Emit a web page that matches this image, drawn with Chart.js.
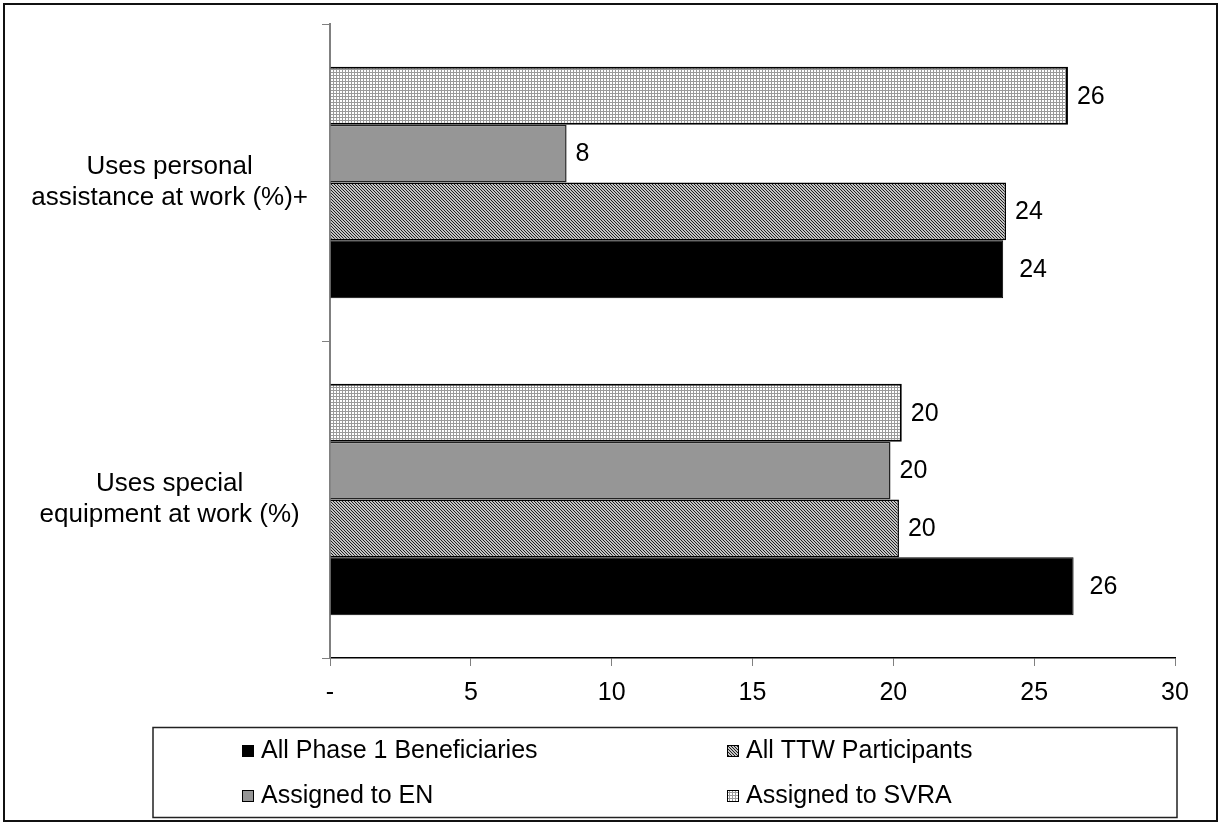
<!DOCTYPE html>
<html>
<head>
<meta charset="utf-8">
<script src="https://cdn.jsdelivr.net/npm/chart.js@4"></script>
<style>
  html, body { margin: 0; padding: 0; background: #fff; }
  #wrap { width: 1220px; height: 825px; position: relative; }
</style>
</head>
<body>
<div id="wrap"><canvas id="chart" width="1220" height="825"></canvas></div>
<script>
// Data
const categories = [
    ['Uses personal', 'assistance at work (%)+'],
    ['Uses special', 'equipment at work (%)']
];
const svraValues = [26.2, 20.3];
const enValues = [8.4, 19.9];
const ttwValues = [24.0, 20.2];
const phase1Values = [23.9, 26.4];
const xTickLabels = ['-', '5', '10', '15', '20', '25', '30'];

const FONT = "'Liberation Sans', Arial, sans-serif";

// Fill patterns
function makePattern(size, drawFn) {
    const c = document.createElement('canvas');
    c.width = size;
    c.height = size;
    const g = c.getContext('2d');
    drawFn(g);
    return g.createPattern(c, 'repeat');
}

const ctx = document.getElementById('chart').getContext('2d');

const gridPattern = makePattern(3, g => {
    g.fillStyle = '#ffffff';
    g.fillRect(0, 0, 3, 3);
    g.fillStyle = '#9a9a9a';
    g.fillRect(0, 0, 3, 1);
    g.fillRect(0, 0, 1, 3);
});

const hatchPattern = makePattern(3, g => {
    g.fillStyle = '#c4c4c4';
    g.fillRect(0, 0, 3, 3);
    g.fillStyle = '#202020';
    for (let y = 0; y < 3; y++) {
        for (let x = 0; x < 3; x++) {
            if (((x - y) % 3 + 3) % 3 === 0) g.fillRect(x, y, 1, 1);
        }
    }
});

// Value labels at bar ends
const valueLabels = {
    id: 'valueLabels',
    afterDatasetsDraw(chart) {
        const c = chart.ctx;
        c.save();
        c.font = '25px ' + FONT;
        c.fillStyle = '#000';
        c.textBaseline = 'middle';
        c.textAlign = 'left';
        chart.data.datasets.forEach((ds, i) => {
            const meta = chart.getDatasetMeta(i);
            meta.data.forEach((bar, j) => {
                const off = ds.labelOffset || 9;
                c.fillText(String(Math.round(ds.data[j])), bar.x + off, bar.y + 1);
            });
        });
        c.restore();
    }
};

// Boxed two-column legend + outer frame
const boxLegend = {
    id: 'boxLegend',
    afterDraw(chart) {
        const c = chart.ctx;
        const ds = chart.data.datasets;
        const order = [3, 2, 1, 0]; // Phase 1, TTW, EN, SVRA
        c.save();
        c.strokeStyle = '#222';
        c.lineWidth = 1.5;
        c.strokeRect(153, 727.5, 1024, 90);
        c.font = '25px ' + FONT;
        c.textBaseline = 'middle';
        c.textAlign = 'left';
        order.forEach((di, k) => {
            const col = k % 2;
            const row = Math.floor(k / 2);
            const sx = col === 0 ? 242 : 727;
            const cy = row === 0 ? 751 : 796;
            c.fillStyle = ds[di].backgroundColor;
            c.fillRect(sx, cy - 6, 12, 12);
            c.strokeStyle = '#000';
            c.lineWidth = 1;
            c.strokeRect(sx + 0.5, cy - 5.5, 11, 11);
            c.fillStyle = '#000';
            c.fillText(ds[di].label, sx + 19, cy);
        });
        c.strokeStyle = '#111';
        c.lineWidth = 2;
        c.strokeRect(4, 4, 1213, 817);
        c.restore();
    }
};

new Chart(ctx, {
    type: 'bar',
    data: {
        labels: categories,
        datasets: [
            {
                label: 'Assigned to SVRA',
                data: svraValues,
                backgroundColor: gridPattern,
                borderColor: '#000',
                borderWidth: 2
            },
            {
                label: 'Assigned to EN',
                data: enValues,
                backgroundColor: '#969696',
                borderColor: '#222',
                borderWidth: 1.5
            },
            {
                label: 'All TTW Participants',
                data: ttwValues,
                backgroundColor: hatchPattern,
                borderColor: '#000',
                borderWidth: 1.5
            },
            {
                label: 'All Phase 1 Beneficiaries',
                data: phase1Values,
                backgroundColor: '#000000',
                borderColor: '#000',
                borderWidth: 1,
                labelOffset: 16
            }
        ]
    },
    options: {
        indexAxis: 'y',
        responsive: false,
        animation: false,
        events: [],
        layout: {
            padding: { left: 20, top: 24, right: 45, bottom: 107 }
        },
        datasets: {
            bar: {
                categoryPercentage: 0.73,
                barPercentage: 1.0
            }
        },
        plugins: {
            legend: { display: false },
            tooltip: { enabled: false }
        },
        scales: {
            x: {
                min: 0,
                max: 30,
                afterFit(scale) { scale.height = 60; },
                afterBuildTicks(scale) {
                    scale.ticks = xTickLabels.map((t, i) => ({ value: i * 5 }));
                },
                grid: {
                    drawOnChartArea: false,
                    drawTicks: true,
                    tickLength: 8,
                    color: '#808080'
                },
                border: { color: '#000', width: 1.5 },
                ticks: {
                    color: '#000',
                    font: { family: FONT, size: 25 },
                    padding: 12,
                    maxRotation: 0,
                    callback: (v, i) => xTickLabels[i]
                }
            },
            y: {
                afterFit(scale) {
                    scale.width = 310;
                    scale.paddingTop = 0;
                    scale.paddingBottom = 0;
                },
                grid: {
                    offset: true,
                    drawOnChartArea: false,
                    drawTicks: true,
                    tickLength: 8,
                    color: '#808080'
                },
                border: { color: '#808080', width: 2 },
                ticks: {
                    color: '#000',
                    crossAlign: 'center',
                    padding: 14,
                    font: { family: FONT, size: 26, lineHeight: 1.2 }
                }
            }
        }
    },
    plugins: [valueLabels, boxLegend]
});
</script>
</body>
</html>
